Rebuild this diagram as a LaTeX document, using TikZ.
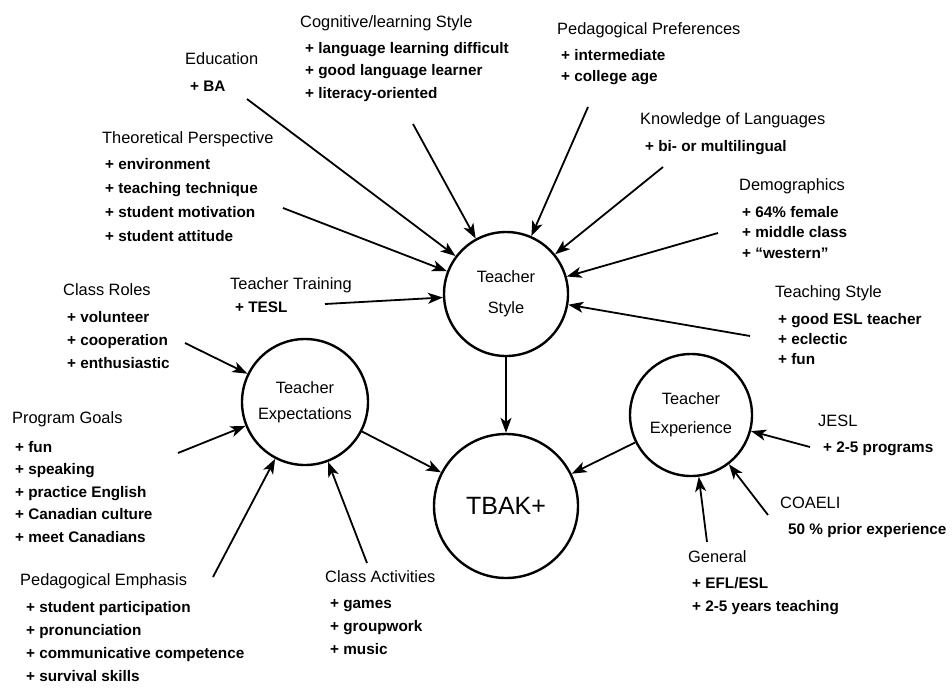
\documentclass[tikz,border=0pt]{standalone}
\usepackage{fontspec}
\setmainfont{Liberation Sans}
\usetikzlibrary{arrows.meta}
\tikzset{
  hub/.style={circle, draw, line width=2.4pt, minimum size=#1, inner sep=0pt, align=center},
  head/.style={anchor=base west, inner sep=0pt, font=\fontsize{16.4}{20}\selectfont},
  items/.style={anchor=base west, inner sep=0pt, font=\bfseries\fontsize{15.3}{#1}\selectfont},
  items/.default=23,
  link/.style={line width=1.8pt, -{Stealth[length=15pt,width=11pt,inset=4pt]}},
}
\newcommand\itemlist[1]{\begin{tabular}[t]{@{}l@{}}#1\end{tabular}}
\begin{document}
\begin{tikzpicture}[x=1pt,y=-1pt]
\useasboundingbox (0,0) rectangle (952,691);

% central circles
\node[hub=124pt, font=\fontsize{16.4}{31}\selectfont] (ts) at (506,294) {Teacher\\Style};
\node[hub=126pt, font=\fontsize{16.4}{26}\selectfont] (te) at (305,402) {Teacher\\Expectations};
\node[hub=122pt, font=\fontsize{16.4}{29}\selectfont] (tx) at (691,415) {Teacher\\Experience};
\node[hub=144pt, font=\fontsize{25}{30}\selectfont] (tb) at (506,506) {TBAK+};

% headings and their items
\node[head] (h-edu) at (185,64) {Education};
\node[items] (i-edu) at (190,91) {\itemlist{+ BA}};

\node[head] (h-cog) at (300,27) {Cognitive/learning Style};
\node[items=22.5] (i-cog) at (305,53) {\itemlist{+ language learning difficult\\+ good language learner\\+ literacy-oriented}};

\node[head] (h-the) at (102,143) {Theoretical Perspective};
\node[items=24.3] (i-the) at (105,169) {\itemlist{+ environment\\+ teaching technique\\+ student motivation\\+ student attitude}};

\node[head] (h-pp) at (557,34) {Pedagogical Preferences};
\node[items=21] (i-pp) at (561,60) {\itemlist{+ intermediate\\+ college age}};

\node[head] (h-kl) at (640,124) {Knowledge of Languages};
\node[items] (i-kl) at (645,151) {\itemlist{+ bi- or multilingual}};

\node[head] (h-dem) at (739,190) {Demographics};
\node[items=20.5] (i-dem) at (742,217) {\itemlist{+ 64\% female\\+ middle class\\+ ``western''}};

\node[head] (h-tt) at (230,289) {Teacher Training};
\node[items] (i-tt) at (235,312) {\itemlist{+ TESL}};

\node[head] (h-cr) at (63,295) {Class Roles};
\node[items] (i-cr) at (67,322) {\itemlist{+ volunteer\\+ cooperation\\+ enthusiastic}};

\node[head] (h-pg) at (12,423) {Program Goals};
\node[items=22.5] (i-pg) at (15,452) {\itemlist{+ fun\\+ speaking\\+ practice English\\+ Canadian culture\\+ meet Canadians}};

\node[head] (h-pe) at (20,585) {Pedagogical Emphasis};
\node[items=23.3] (i-pe) at (26,612) {\itemlist{+ student participation\\+ pronunciation\\+ communicative competence\\+ survival skills}};

\node[head] (h-ca) at (325,582) {Class Activities};
\node[items] (i-ca) at (330,608) {\itemlist{+ games\\+ groupwork\\+ music}};

\node[head] (h-tsy) at (775,297) {Teaching Style};
\node[items=20] (i-tsy) at (778,324) {\itemlist{+ good ESL teacher\\+ eclectic\\+ fun}};

\node[head] (h-jesl) at (818,426) {JESL};
\node[items] (i-jesl) at (823,452) {\itemlist{+ 2-5 programs}};

\node[head] (h-coa) at (780,508) {COAELI};
\node[items] (i-coa) at (788,534) {\itemlist{50 \% prior experience}};

\node[head] (h-gen) at (688,562) {General};
\node[items] (i-gen) at (692,588) {\itemlist{+ EFL/ESL\\+ 2-5 years teaching}};

% arrow tails
\coordinate (s-edu) at (247,99);
\coordinate (s-cog) at (413,124);
\coordinate (s-pp)  at (588,107);
\coordinate (s-kl)  at (663,167);
\coordinate (s-dem) at (718,233);
\coordinate (s-the) at (283,208);
\coordinate (s-tt)  at (325,304);
\coordinate (s-tsy) at (750,336);
\coordinate (s-cr)  at (185,343);
\coordinate (s-pg)  at (178,453);
\coordinate (s-pe)  at (213,577);
\coordinate (s-ca)  at (367,563);
\coordinate (s-jesl) at (810,447);
\coordinate (s-coa) at (768,515);
\coordinate (s-gen) at (707,542);

% influences on teacher style
\foreach \s in {edu,cog,pp,kl,dem,the,tt,tsy}
  \draw[link] (s-\s) -- (ts);
% influences on teacher expectations
\foreach \s in {cr,pg,pe,ca}
  \draw[link] (s-\s) -- (te);
% influences on teacher experience
\foreach \s in {jesl,coa,gen}
  \draw[link] (s-\s) -- (tx);

% into TBAK+
\draw[link] (ts) -- (tb);
\draw[link] (te) -- (tb);
\draw[link] (tx) -- (tb);
\end{tikzpicture}
\end{document}
